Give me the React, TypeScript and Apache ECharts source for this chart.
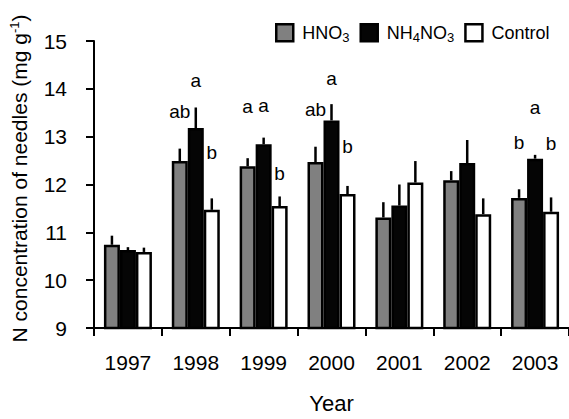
import React, { useEffect, useRef } from "react";
import * as echarts from "echarts";

const years = ["1997", "1998", "1999", "2000", "2001", "2002", "2003"];
const seriesNames = ["HNO3", "NH4NO3", "Control"];
const hno3 = [10.74, 12.49, 12.38, 12.47, 11.31, 12.09, 11.72];
const nh4no3 = [10.63, 13.18, 12.84, 13.34, 11.56, 12.45, 12.54];
const control = [10.59, 11.47, 11.55, 11.8, 12.04, 11.38, 11.43];
const hno3Err = [0.19, 0.26, 0.17, 0.32, 0.32, 0.19, 0.18];
const nh4no3Err = [0.06, 0.43, 0.14, 0.34, 0.44, 0.48, 0.08];
const controlErr = [0.09, 0.24, 0.2, 0.17, 0.45, 0.33, 0.3];
// [year index, series index, y position, letter]
const letters: [number, number, number, string][] = [
  [1, 0, 13.53, "ab"], [1, 1, 14.17, "a"], [1, 2, 12.66, "b"],
  [2, 0, 13.63, "a"], [2, 1, 13.66, "a"], [2, 2, 12.23, "b"],
  [3, 0, 13.57, "ab"], [3, 1, 14.22, "a"], [3, 2, 12.79, "b"],
  [6, 0, 12.88, "b"], [6, 1, 13.62, "a"], [6, 2, 12.85, "b"],
];

const FONT = "'Liberation Sans', Arial, sans-serif";
const BAR_W = 16;
const colors = ["#808080", "#050505", "#ffffff"];

export default function App() {
  const ref = useRef<HTMLDivElement>(null);
  useEffect(() => {
    if (!ref.current) return;
    const chart = echarts.init(ref.current, null, { renderer: "svg" });
    const values = [hno3, nh4no3, control];
    const errs = [hno3Err, nh4no3Err, controlErr];
    const barSeries = seriesNames.map((name, i) => ({
      name,
      type: "bar",
      data: values[i],
      barWidth: BAR_W,
      barGap: "0%",
      itemStyle: { color: colors[i], borderColor: "#000", borderWidth: 2.5 },
      z: 2,
    }));
    const errSeries = seriesNames.map((name, i) => ({
      type: "custom",
      name: name + "_err",
      z: 3,
      data: values[i].map((v, k) => [k, v, v + errs[i][k]]),
      renderItem: (params: any, api: any) => {
        const p0 = api.coord([api.value(0), api.value(1)]);
        const p1 = api.coord([api.value(0), api.value(2)]);
        const x = p0[0] + (i - 1) * BAR_W;
        return {
          type: "line",
          shape: { x1: x, y1: p0[1], x2: x, y2: p1[1] },
          style: { stroke: "#000", lineWidth: 2.5 },
        };
      },
    }));
    const letterSeries = {
      type: "custom",
      name: "letters",
      z: 4,
      data: letters.map((l) => [l[0], l[2], l[1], l[3]]),
      renderItem: (params: any, api: any) => {
        const d = letters[params.dataIndex];
        const p = api.coord([d[0], d[2]]);
        return {
          type: "text",
          x: p[0] + (d[1] - 1) * BAR_W,
          y: p[1],
          style: {
            text: d[3],
            fontSize: 19,
            fontFamily: FONT,
            fill: "#000",
            align: "center",
            verticalAlign: "middle",
          },
        };
      },
    };
    const legendFmt: Record<string, string> = {
      HNO3: "{n|HNO}{s|3}",
      NH4NO3: "{n|NH}{s|4}{n|NO}{s|3}",
      Control: "{n|Control}",
    };
    chart.setOption({
      animation: false,
      grid: { left: 91, right: 0, top: 41, bottom: 86 },
      legend: {
        data: seriesNames,
        left: 270,
        top: 18,
        icon: "rect",
        itemWidth: 17,
        itemHeight: 17,
        itemGap: 10,
        itemStyle: { borderColor: "#000", borderWidth: 2.5 },
        formatter: (n: string) => legendFmt[n],
        textStyle: {
          fontFamily: FONT,
          fontSize: 18,
          color: "#000",
          padding: [0, 0, 0, 4],
          rich: {
            n: { fontSize: 18, fontFamily: FONT, color: "#000" },
            s: { fontSize: 13, fontFamily: FONT, color: "#000", padding: [10, 0, 0, 0] },
          },
        },
      },
      xAxis: {
        type: "category",
        data: years,
        name: "Year",
        nameLocation: "middle",
        nameGap: 64,
        nameTextStyle: { fontFamily: FONT, fontSize: 22, color: "#000" },
        axisLine: { lineStyle: { color: "#000", width: 2 } },
        axisTick: { show: true, interval: 0, length: 8, lineStyle: { color: "#000", width: 2 } },
        axisLabel: { fontFamily: FONT, fontSize: 21, color: "#000", margin: 24, interval: 0 },
      },
      yAxis: {
        type: "value",
        min: 9,
        max: 15,
        interval: 1,
        name: "{a|N concentration of needles (mg g}{s|-1}{a|)}",
        nameLocation: "middle",
        nameGap: 63,
        nameRotate: 90,
        nameTextStyle: {
          fontFamily: FONT,
          fontSize: 21,
          color: "#000",
          padding: [0, 0, 0, 12],
          rich: {
            a: { fontFamily: FONT, fontSize: 21, color: "#000" },
            s: { fontFamily: FONT, fontSize: 13, color: "#000", padding: [0, 0, 10, 0] },
          },
        },
        splitLine: { show: false },
        axisLine: { show: true, lineStyle: { color: "#000", width: 2 } },
        axisTick: { show: true, length: 8, lineStyle: { color: "#000", width: 2 } },
        axisLabel: { fontFamily: FONT, fontSize: 21, color: "#000", margin: 27 },
      },
      series: [...barSeries, ...errSeries, letterSeries],
    });
    return () => chart.dispose();
  }, []);
  return (
    <div
      ref={ref}
      style={{ position: "absolute", left: 0, top: 0, width: 569, height: 419, background: "#fff" }}
    />
  );
}
